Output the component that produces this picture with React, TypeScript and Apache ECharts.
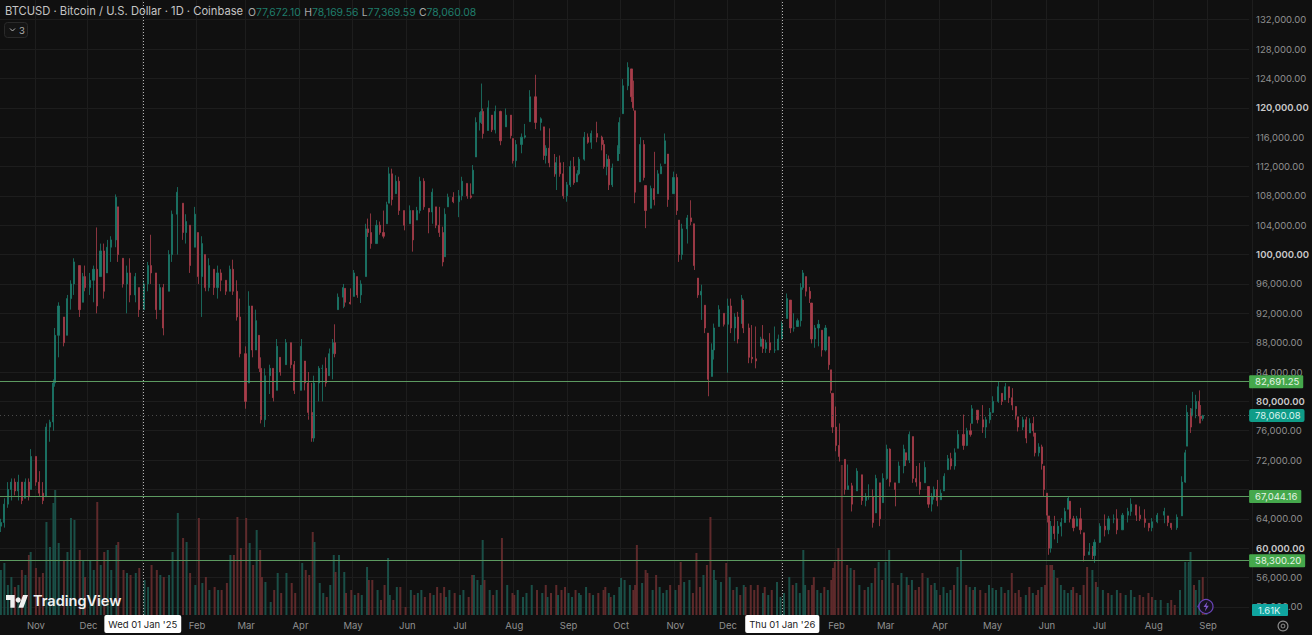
import React, { useEffect, useRef } from "react";
import * as echarts from "echarts";

// Candles, prices in hundreds of USD; barDays counts days from 12 Oct 2024.
const barDays = [
0,2,4,6,8,10,12,14,16,17,
20,22,24,26,28,30,31,33,36,38,
40,42,45,47,48,51,53,55,57,59,
61,63,66,67,70,72,74,77,79,82,
84,86,89,91,93,96,98,101,104,106,
108,111,113,115,117,119,122,124,126,129,
131,133,135,137,140,142,144,146,148,149,
151,154,156,158,160,163,166,168,172,174,
176,178,179,182,184,186,188,190,191,193,
196,197,200,202,204,206,209,210,212,215,
217,219,221,222,224,226,228,231,234,236,
238,240,242,245,247,249,251,253,254,256,
259,262,264,267,269,270,272,274,275,276,
279,281,283,286,289,292,293,295,298,300,
303,306,309,311,312,314,317,318,320,322,
324,326,328,330,331,334,336,338,341,344,
345,347,348,350,353,354,356,359,361,362,
363,366,368,369,372,374,376,378,380,382,
385,387,388,390,393,395,397,399,401,403,
405,407,408,411,414,416,418,420,422,424,
425,428,430,432,435,436,438,440,443,445,
447,450,452,454,456,458,459,461,463,464,
466,468,470,472,474,475,476,478,480,483,
485,487,490,493,495,497,499,501,503,505,
507,509,512,514,517,518,520,522,524,526,
529,531,533,534,536,538,540,542,544,546,
548,551,553,555,556,559,562,564,566,568,
571,573,575,577,579,581,582,585,587,589,
591,592,594,596,597,599,600,601,603,605,
607,609,611,612,614,616,618,620,623,625,
626,629,632,634,637,639,642,645,647,650,
652,655,657,659,662,666,668,670,673,676,
678,679,681,682,684,686,687,688];

const highs = [
640,668,690,695,695,700,690,695,695,735,
725,705,690,770,775,830,900,935,915,945,
965,995,985,975,985,975,985,1037,1015,1015,
1020,1025,1082,1065,995,985,995,975,955,965,
990,1027,975,960,960,1006,1060,1092,1070,1055,
1040,1065,1030,1025,1000,995,980,985,980,965,
985,993,965,940,875,950,930,925,890,860,
845,850,845,885,860,885,880,855,885,855,
840,825,835,848,850,860,872,885,905,947,
960,954,954,979,970,965,1042,1049,1056,1047,
1045,1060,1072,1119,1117,1108,1106,1060,1067,1060,
1065,1106,1104,1063,1090,1065,1065,1038,1063,1083,
1085,1088,1106,1097,1097,1122,1187,1194,1233,1199,
1210,1190,1203,1196,1199,1190,1158,1156,1165,1178,
1224,1245,1187,1174,1149,1172,1137,1133,1135,1126,
1099,1128,1133,1115,1133,1167,1165,1169,1181,1162,
1156,1137,1135,1124,1149,1187,1239,1262,1253,1237,
1196,1160,1156,1094,1094,1140,1115,1124,1165,1137,
1113,1110,1047,1042,1054,1074,1042,968,959,931,
893,879,906,931,920,940,940,920,922,945,
938,906,904,902,888,904,884,893,902,891,
909,947,938,920,913,961,979,970,956,934,
904,911,897,904,888,843,811,793,770,721,
714,689,709,700,675,687,680,700,689,702,
741,736,689,718,741,730,759,752,712,716,
718,684,675,684,693,680,702,727,730,736,
761,782,764,770,795,788,795,779,791,807,
827,811,825,820,818,793,779,779,779,777,
779,757,743,741,712,675,644,637,644,637,
641,655,671,664,644,644,655,621,607,603,
612,634,646,644,646,653,648,655,668,659,
657,653,634,641,648,655,644,634,646,698,
734,795,791,813,809,815,795,781.7];

const lows = [
622,628,655,665,672,665,660,668,665,680,
685,670,660,670,745,760,820,860,875,890,
925,945,915,935,950,945,935,920,970,940,
975,990,1010,990,955,920,935,935,915,925,
950,960,912,925,890,950,990,1000,1020,1015,
975,1010,960,915,950,950,945,940,950,945,
950,945,910,860,790,825,860,870,840,770,
765,810,800,815,835,850,845,810,815,815,
775,745,745,800,800,820,835,830,860,925,
927,929,932,943,941,934,970,1024,1008,1015,
1027,1022,1042,1070,1067,1083,1054,1033,1042,1004,
1047,1056,1061,1029,1042,1036,1024,984,997,1065,
1070,1051,1074,1076,1076,1083,1133,1169,1178,1158,
1169,1167,1165,1149,1174,1158,1124,1119,1138,1158,
1181,1171,1169,1129,1124,1119,1106,1088,1106,1076,
1072,1092,1095,1099,1108,1128,1151,1144,1153,1142,
1117,1108,1088,1092,1128,1137,1192,1224,1208,1196,
1070,1099,1101,1036,1063,1067,1083,1110,1124,1065,
1083,1054,990,993,1015,1040,979,941,911,893,
807,834,857,902,902,839,893,882,879,906,
893,852,852,845,875,866,866,866,866,870,
884,913,893,895,902,902,952,943,934,879,
873,875,861,868,843,811,757,732,718,673,
680,650,678,659,657,666,628,648,630,662,
693,684,657,689,702,712,716,689,684,673,
689,655,650,666,657,666,678,707,707,707,
736,734,739,752,770,770,757,750,770,784,
798,795,802,798,788,775,759,761,743,757,
752,725,725,707,671,635,591,594,612,607,
616,635,653,635,623,630,619,582,591,585,
580,607,616,619,634,619,625,635,644,637,
637,628,623,623,634,634,630,625,625,644,
689,739,757,780,777,770,770,773.7];

const closes = [
635,660,680,690,678,690,665,690,670,725,
690,675,665,765,772,825,890,930,880,940,
960,990,925,970,955,965,980,930,1005,950,
1010,1020,1078,1000,960,975,945,970,925,960,
985,975,925,955,900,1000,1055,1085,1030,1045,
985,1055,970,1015,955,985,955,975,965,950,
980,950,915,865,800,930,870,910,845,775,
835,845,805,875,840,880,850,815,875,825,
785,750,825,845,845,825,865,880,865,942,
955,935,933,975,945,960,1035,1030,1015,1040,
1030,1025,1068,1110,1075,1100,1060,1040,1060,1020,
1060,1100,1065,1058,1085,1040,1030,990,1055,1078,
1072,1080,1100,1080,1078,1115,1180,1190,1195,1165,
1200,1170,1195,1155,1190,1162,1128,1150,1160,1162,
1215,1180,1185,1135,1145,1125,1110,1125,1110,1080,
1095,1120,1098,1110,1130,1160,1153,1165,1160,1150,
1120,1130,1095,1118,1145,1180,1230,1255,1215,1200,
1085,1150,1105,1060,1090,1075,1110,1120,1155,1075,
1105,1060,1000,1035,1050,1045,985,945,950,900,
830,870,900,925,905,930,900,915,885,940,
900,860,858,855,885,872,880,870,870,885,
905,940,900,900,910,955,975,950,940,885,
900,905,870,900,850,815,765,740,725,680,
685,660,705,665,670,670,635,695,640,695,
735,690,680,712,735,720,755,695,690,680,
710,660,670,680,665,675,698,722,712,730,
755,740,760,755,790,775,765,775,785,800,
820,800,820,805,795,780,765,775,750,770,
760,730,738,715,680,645,600,630,620,630,
635,650,668,640,628,640,625,590,595,590,
608,630,625,640,640,625,645,650,660,645,
640,635,628,636,645,650,635,628,642,690,
730,785,765,790,800,780,776.7,780.6];

// Relative volume of each candle.
const volumes = [
45,52,30,38,28,30,45,40,60,63,
47,38,42,93,68,112,125,72,55,63,
97,95,65,55,38,55,45,113,50,63,
65,45,70,73,45,42,40,42,47,35,
28,50,45,40,38,40,63,102,77,73,
42,30,97,32,38,25,28,25,25,32,
60,60,98,67,97,72,50,85,65,38,
33,13,25,42,22,42,32,22,52,45,
40,83,73,32,22,18,30,60,43,60,
43,22,25,20,22,20,48,35,35,25,
15,30,57,20,15,28,28,8,25,20,
22,25,18,22,20,28,22,28,18,25,
22,20,25,18,40,40,35,30,75,35,
25,20,25,77,30,22,20,25,18,22,
30,25,22,30,18,22,30,20,25,28,
22,18,25,22,20,28,22,20,22,25,
28,22,18,20,28,37,35,30,25,30,
70,32,45,42,25,40,28,22,25,30,
25,30,53,33,35,22,62,28,40,50,
98,45,35,33,52,38,25,28,20,30,
28,30,25,30,22,28,20,25,33,18,
22,38,30,32,22,65,30,25,30,38,
25,22,28,25,35,47,53,67,150,50,
47,45,30,25,28,32,47,53,35,53,
65,32,30,42,38,30,35,25,28,42,
37,30,32,25,20,28,22,25,30,48,
65,30,28,25,28,25,22,30,27,25,
28,22,25,42,22,25,18,20,28,22,
20,25,28,30,50,50,50,45,37,30,
25,22,25,28,22,20,30,48,45,33,
28,25,22,20,25,22,20,25,18,20,
18,22,18,15,15,12,15,10,25,53,
53,63,30,25,35,38,15,5];

const priceLevels = [82691.25, 67044.16, 58300.2];
const lastPrice = 78060.08;
const crosshairDates = ["2025-01-01", "2026-01-01"];
const crosshairLabels: Record<string, string> = {
  "2025-01-01": "Wed 01 Jan '25",
  "2026-01-01": "Thu 01 Jan '26",
};
const monthNames = ["Jan", "Feb", "Mar", "Apr", "May", "Jun", "Jul", "Aug", "Sep", "Oct", "Nov", "Dec"];
const hiddenTicks = [68000];

const DAY_COUNT = 715;
const startUtc = Date.UTC(2024, 9, 12);
const categories = Array.from({ length: DAY_COUNT }, (_, i) =>
  new Date(startUtc + i * 86400000).toISOString().slice(0, 10)
);
const isMonthStart = (_i: number, v: string) => v.slice(8) === "01";
const fmt = (v: number) =>
  v.toLocaleString("en-US", { minimumFractionDigits: 2, maximumFractionDigits: 2 });

const UP = "#1c7a6b";
const DOWN = "#a83d4a";
const VOL_UP = "#1a4f47";
const VOL_DOWN = "#5e2a2b";
const FONT = "Inter";

const candleData = barDays.map((d, i) => {
  const prev = i > 0 ? closes[i - 1] : closes[i] - 5;
  const open = Math.min(highs[i], Math.max(lows[i], prev));
  return [d, open * 100, closes[i] * 100, lows[i] * 100, highs[i] * 100];
});
const volumeData = barDays.map((d, i) => ({
  value: [d, volumes[i]],
  itemStyle: { color: candleData[i][2] >= candleData[i][1] ? VOL_UP : VOL_DOWN },
}));

export default function App() {
  const ref = useRef<HTMLDivElement>(null);
  useEffect(() => {
    document.body.style.margin = "0";
    document.body.style.background = "#101010";
    const logoPath = "M14 22H7V11H0V4h14v18zM28 22h-8l7.5-18h8L28 22z";
    echarts.graphic.registerShape("tvmark", echarts.graphic.extendPath(logoPath, {}) as any);
    const chart = echarts.init(ref.current!, undefined, { renderer: "svg" });

    const levelLine = (v: number) => ({
      yAxis: v,
      lineStyle: { color: "#5c9a60", width: 1, type: "solid" },
      label: {
        show: true,
        position: "end",
        distance: 0,
        formatter: fmt(v),
        color: "#e6f4e6",
        backgroundColor: "#45a84c",
        padding: [2, 4, 1, 6],
        borderRadius: 1,
        fontFamily: FONT,
        fontSize: 9.5,
      },
    });

    chart.setOption({
      animation: false,
      backgroundColor: "#101010",
      grid: [
        { left: 0, top: 19.7, width: 1252.7, height: 587.2 },
        { left: 0, top: 0, width: 1252.7, height: 615 },
      ],
      xAxis: [
        {
          type: "category",
          gridIndex: 0,
          data: categories,
          boundaryGap: true,
          axisLine: { show: false },
          axisTick: { show: false },
          axisLabel: { show: false },
          splitLine: { show: false },
        },
        {
          type: "category",
          gridIndex: 1,
          data: categories,
          boundaryGap: true,
          axisLine: { show: false },
          axisTick: { show: false },
          axisLabel: {
            interval: isMonthStart,
            margin: 0,
            hideOverlap: false,
            formatter: (v: string) =>
              crosshairLabels[v]
                ? `{box|${crosshairLabels[v]}}`
                : `{m|${monthNames[Number(v.slice(5, 7)) - 1]}}`,
            rich: {
              m: { color: "#8f8f8f", fontFamily: FONT, fontSize: 9.5, lineHeight: 20 },
              box: {
                color: "#1a1a1a",
                backgroundColor: "#ffffff",
                fontFamily: FONT,
                fontSize: 9.5,
                padding: [4, 4, 4, 4],
                borderRadius: 2,
              },
            },
          },
          splitLine: {
            show: true,
            interval: isMonthStart,
            lineStyle: { color: "#1d1d1d", width: 1 },
          },
        },
      ],
      yAxis: [
        {
          type: "value",
          gridIndex: 0,
          position: "right",
          min: 52000,
          max: 132000,
          interval: 4000,
          axisLine: { show: false },
          axisTick: { show: false },
          splitLine: { show: true, lineStyle: { color: "#1d1d1d", width: 1 } },
          axisLabel: {
            margin: 7,
            formatter: (v: number) =>
              hiddenTicks.includes(v) ? "" : v % 20000 === 0 ? `{b|${fmt(v)}}` : `{n|${fmt(v)}}`,
            rich: {
              n: { color: "#8f8f8f", fontFamily: FONT, fontSize: 9.5 },
              b: { color: "#c9c9c9", fontFamily: FONT, fontSize: 9.5, fontWeight: 600 },
            },
          },
        },
        {
          type: "value",
          gridIndex: 1,
          min: 0,
          max: 615,
          show: false,
        },
      ],
      series: [
        {
          type: "bar",
          name: "Volume",
          xAxisIndex: 1,
          yAxisIndex: 1,
          barWidth: 2,
          data: volumeData,
          encode: { x: 0, y: 1 },
          markLine: {
            silent: true,
            symbol: "none",
            label: { show: false },
            lineStyle: { color: "#b5b5b5", type: [1, 2], width: 1 },
            data: crosshairDates.map((d) => ({ xAxis: categories.indexOf(d) })),
          },
        },
        {
          type: "candlestick",
          name: "BTCUSD",
          xAxisIndex: 0,
          yAxisIndex: 0,
          barWidth: 1.6,
          data: candleData,
          encode: { x: 0, y: [1, 2, 3, 4] },
          itemStyle: { color: UP, color0: DOWN, borderColor: UP, borderColor0: DOWN, borderWidth: 0.8 },
          markLine: {
            silent: true,
            symbol: "none",
            data: [
              ...priceLevels.map(levelLine),
              {
                yAxis: lastPrice,
                lineStyle: { color: "#4a4a4a", width: 1, type: [1, 3] },
                label: {
                  show: true,
                  position: "end",
                  distance: 0,
                  formatter: fmt(lastPrice),
                  color: "#dff5f0",
                  backgroundColor: "#0f9c88",
                  padding: [2, 4, 1, 6],
                  borderRadius: 2,
                  fontFamily: FONT,
                  fontSize: 9.5,
                },
              },
            ],
          },
        },
      ],
      graphic: [
        {
          type: "text",
          x: 5,
          y: 5,
          z: 20,
          style: {
            text: "BTCUSD · Bitcoin / U.S. Dollar · 1D · Coinbase",
            fill: "#c4c4c4",
            font: `11.2px ${FONT}`,
          },
        },
        {
          type: "text",
          x: 248,
          y: 6,
          z: 20,
          style: {
            text: "{l|O}{v|77,672.10} {l|H}{v|78,169.56} {l|L}{v|77,369.59} {l|C}{v|78,060.08}",
            rich: {
              l: { fill: "#a8a8a8", font: `10.4px ${FONT}` },
              v: { fill: "#1f7d6b", font: `10.4px ${FONT}` },
            },
          },
        },
        {
          type: "rect",
          z: 20,
          shape: { x: 4.5, y: 22.5, width: 23, height: 15, r: 3 },
          style: { fill: "#141414", stroke: "#2a2a2a", lineWidth: 1 },
        },
        {
          type: "polyline",
          z: 21,
          shape: { points: [[10, 28.5], [12.5, 31], [15, 28.5]] },
          style: { fill: "none", stroke: "#b8b8b8", lineWidth: 1 },
        },
        {
          type: "text",
          x: 19,
          y: 25,
          z: 21,
          style: { text: "3", fill: "#b0b0b0", font: `9.5px ${FONT}` },
        },
        {
          type: "tvmark",
          x: 6,
          y: 592,
          z: 20,
          scaleX: 0.62,
          scaleY: 0.72,
          style: { fill: "#f0f0f0" },
        },
        {
          type: "circle",
          z: 20,
          shape: { cx: 18.2, cy: 600, r: 2.6 },
          style: { fill: "#f0f0f0" },
        },
        {
          type: "text",
          x: 33,
          y: 593,
          z: 20,
          style: { text: "TradingView", fill: "#f0f0f0", font: `600 14.5px ${FONT}` },
        },
        {
          type: "rect",
          z: 20,
          shape: { x: 1252, y: 604, width: 36, height: 12, r: 1 },
          style: { fill: "#10a5a0" },
        },
        {
          type: "text",
          x: 1258,
          y: 605,
          z: 21,
          style: { text: "1.61K", fill: "#dff5f5", font: `9.5px ${FONT}` },
        },
        {
          type: "circle",
          z: 20,
          shape: { cx: 1206, cy: 606.5, r: 7 },
          style: { fill: "#16121f", stroke: "#6a45b8", lineWidth: 1.2 },
        },
        {
          type: "polygon",
          z: 21,
          shape: { points: [[1207.5, 601.5], [1203.5, 607], [1206, 607], [1204.8, 611.5], [1208.8, 605.8], [1206.3, 605.8]] },
          style: { fill: "#7e57c9" },
        },
        {
          type: "polygon",
          z: 19,
          shape: { points: [[1199, 604], [1197, 606.5], [1199, 609], [1201, 606.5]] },
          style: { fill: "#4d38a0" },
        },
        {
          type: "ring",
          z: 20,
          shape: { cx: 1283, cy: 626, r: 5.5, r0: 4.3 },
          style: { fill: "#8c8c8c" },
        },
        {
          type: "ring",
          z: 20,
          shape: { cx: 1283, cy: 626, r: 2.4, r0: 1.4 },
          style: { fill: "#8c8c8c" },
        },
      ],
    });
    return () => chart.dispose();
  }, []);
  return (
    <div
      ref={ref}
      style={{ position: "absolute", left: 0, top: 0, width: 1312, height: 635, overflow: "hidden" }}
    />
  );
}
